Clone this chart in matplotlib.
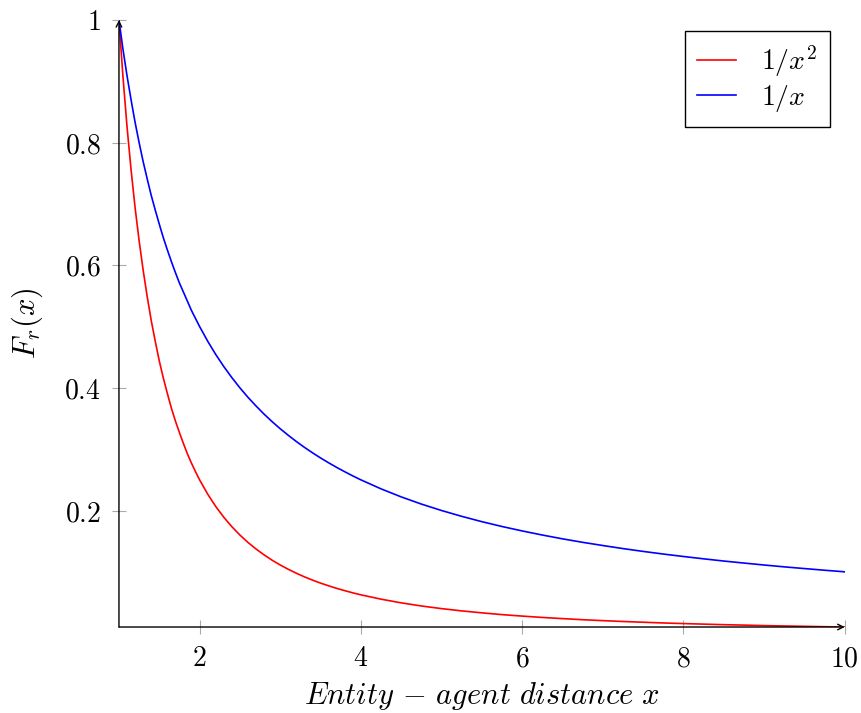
import matplotlib
matplotlib.use('Agg')
import matplotlib.pyplot as plt

plt.rcParams['mathtext.fontset'] = 'cm'
plt.rcParams['font.family'] = ['DejaVu Serif']

x_vals = [1.00, 1.05, 1.10, 1.15, 1.20, 1.25, 1.30, 1.35, 1.40, 1.45, 1.50,
          1.55, 1.60, 1.65, 1.70, 1.75, 1.80, 1.85, 1.90, 1.95, 2.00,
          2.1, 2.2, 2.3, 2.4, 2.5, 2.6, 2.7, 2.8, 2.9, 3.0,
          3.1, 3.2, 3.3, 3.4, 3.5, 3.6, 3.7, 3.8, 3.9, 4.0,
          4.25, 4.5, 4.75, 5.0, 5.25, 5.5, 5.75, 6.0, 6.25, 6.5, 6.75,
          7.0, 7.25, 7.5, 7.75, 8.0, 8.25, 8.5, 8.75, 9.0, 9.25, 9.5, 9.75, 10.0]
inv_sq = [1.000, 0.907, 0.826, 0.756, 0.694, 0.640, 0.592, 0.549, 0.510, 0.476, 0.444,
          0.416, 0.391, 0.367, 0.346, 0.327, 0.309, 0.292, 0.277, 0.263, 0.250,
          0.2268, 0.2066, 0.1890, 0.1736, 0.1600, 0.1479, 0.1372, 0.1276, 0.1189, 0.1111,
          0.1041, 0.0977, 0.0918, 0.0865, 0.0816, 0.0772, 0.0730, 0.0693, 0.0657, 0.0625,
          0.0554, 0.0494, 0.0443, 0.0400, 0.0363, 0.0331, 0.0302, 0.0278, 0.0256, 0.0237, 0.0219,
          0.0204, 0.0190, 0.0178, 0.0166, 0.0156, 0.0147, 0.0138, 0.0131, 0.0123,
          0.0117, 0.0111, 0.0105, 0.0100]
inv = [1.000, 0.952, 0.909, 0.870, 0.833, 0.800, 0.769, 0.741, 0.714, 0.690, 0.667,
       0.645, 0.625, 0.606, 0.588, 0.571, 0.556, 0.541, 0.526, 0.513, 0.500,
       0.4762, 0.4545, 0.4348, 0.4167, 0.4000, 0.3846, 0.3704, 0.3571, 0.3448, 0.3333,
       0.3226, 0.3125, 0.3030, 0.2941, 0.2857, 0.2778, 0.2703, 0.2632, 0.2564, 0.2500,
       0.2353, 0.2222, 0.2105, 0.2000, 0.1905, 0.1818, 0.1739, 0.1667, 0.1600, 0.1538, 0.1481,
       0.1429, 0.1379, 0.1333, 0.1290, 0.1250, 0.1212, 0.1176, 0.1143, 0.1111,
       0.1081, 0.1053, 0.1026, 0.1000]

x_ticks = [2, 4, 6, 8, 10]
y_ticks = [0.2, 0.4, 0.6, 0.8, 1.0]
y_tick_labels = ['$0.2$', '$0.4$', '$0.6$', '$0.8$', '$1$']

fig = plt.figure(figsize=(8.62, 7.13), dpi=100)
ax = fig.add_axes([0.138, 0.1206, 0.842, 0.8514])

ax.plot(x_vals, inv_sq, color='#ff0000', lw=1.2, label='$1/x^2$')
ax.plot(x_vals, inv, color='#0000ff', lw=1.2, label='$1/x$')

ax.set_xlim(1, 10)
ax.set_ylim(0.01, 1.0)
ax.set_xticks(x_ticks)
ax.set_xticklabels(['$%d$' % t for t in x_ticks])
ax.set_yticks(y_ticks)
ax.set_yticklabels(y_tick_labels)
ax.tick_params(direction='inout', length=10, color='#aaaaaa', labelsize=20, pad=8)

# axis lines with arrow heads
for s in ['top', 'right', 'left', 'bottom']:
    ax.spines[s].set_visible(False)
ax.annotate('', xy=(1.0, 0), xytext=(0, 0), xycoords='axes fraction',
            arrowprops=dict(arrowstyle='->', color='black', lw=1.0, shrinkA=0, shrinkB=0))
ax.annotate('', xy=(0, 1.0), xytext=(0, 0), xycoords='axes fraction',
            arrowprops=dict(arrowstyle='->', color='black', lw=1.0, shrinkA=0, shrinkB=0))

ax.set_xlabel(r'$Entity\,-\,agent\ distance\ x$', fontsize=22, labelpad=6)
ax.set_ylabel(r'$F_r(x)$', fontsize=22, labelpad=14)

leg = ax.legend(loc='upper right', bbox_to_anchor=(0.979, 0.982), borderaxespad=0,
                fontsize=20, frameon=True, fancybox=False, edgecolor='black',
                framealpha=1, handlelength=1.4, handletextpad=0.9, borderpad=0.45,
                labelspacing=0.15)
leg.get_frame().set_linewidth(1.0)

fig.savefig('out.png', dpi=100)
